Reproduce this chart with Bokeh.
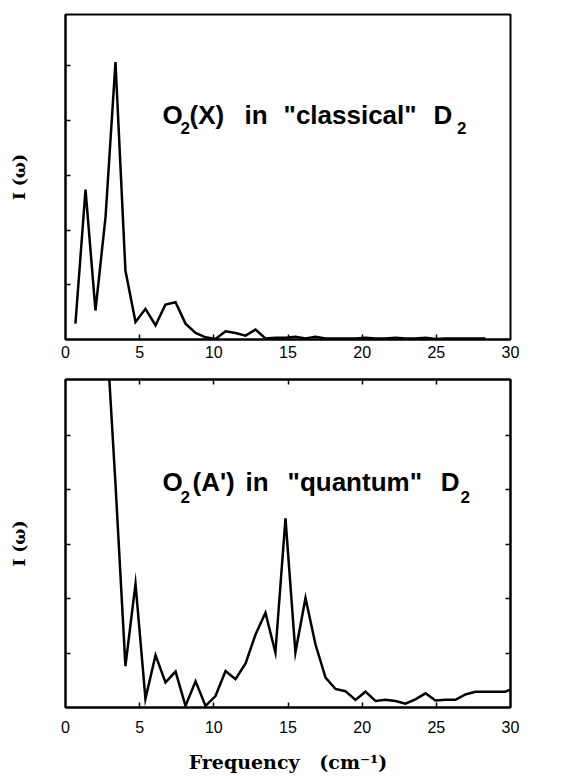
from bokeh.plotting import figure
from bokeh.layouts import column
from bokeh.models import Range1d, FixedTicker, LinearAxis, Label
from bokeh.embed import file_html
from bokeh.resources import INLINE

# ---- data ----
freq_top = [0.67, 1.35, 2.02, 2.70, 3.37, 4.04, 4.72, 5.39, 6.07, 6.74, 7.42, 8.09,
            8.77, 9.44, 10.11, 10.79, 11.46, 12.14, 12.81, 13.48, 14.15, 14.83, 15.50,
            16.18, 16.85, 17.53, 18.20, 18.87, 19.55, 20.22, 20.90, 21.57, 22.24, 22.92,
            23.59, 24.27, 24.94, 25.62, 26.29, 26.96, 27.64, 28.31]
I_top = [0.29, 2.74, 0.53, 2.24, 5.07, 1.26, 0.32, 0.56, 0.26, 0.64, 0.68, 0.29,
         0.12, 0.04, 0.01, 0.15, 0.12, 0.07, 0.18, 0.02, 0.03, 0.03, 0.05,
         0.02, 0.05, 0.02, 0.02, 0.02, 0.02, 0.03, 0.02, 0.02, 0.03, 0.02,
         0.02, 0.03, 0.01, 0.02, 0.02, 0.02, 0.02, 0.02]

freq_bot = [2.70, 3.37, 4.04, 4.72, 5.39, 6.07, 6.74, 7.42, 8.09, 8.77, 9.44, 10.11,
            10.79, 11.46, 12.14, 12.81, 13.48, 14.15, 14.83, 15.50, 16.18, 16.85, 17.53,
            18.20, 18.87, 19.55, 20.22, 20.90, 21.57, 22.24, 22.92, 23.59, 24.27, 24.94,
            25.62, 26.29, 26.96, 27.64, 28.31, 28.98, 29.66, 30.00]
I_bot = [7.2, 4.1, 0.76, 2.27, 0.16, 0.96, 0.46, 0.66, 0.03, 0.48, 0.03, 0.21,
         0.67, 0.52, 0.81, 1.34, 1.74, 1.01, 3.47, 1.01, 2.01, 1.16, 0.55,
         0.34, 0.30, 0.14, 0.29, 0.12, 0.14, 0.12, 0.07, 0.15, 0.26, 0.13,
         0.14, 0.14, 0.24, 0.29, 0.29, 0.29, 0.29, 0.33]

x_ticks = [0, 5, 10, 15, 20, 25, 30]
x_inner_ticks = [5, 10, 15, 20, 25]
y_ticks = [1, 2, 3, 4, 5]

title_top = [("O", 6.54, "main"), ("2", 7.75, "sub"), ("(X)", 8.36, "main"),
             ("in", 12.07, "main"), ('"classical"', 14.70, "main"),
             ("D", 24.81, "main"), ("2", 26.40, "sub")]
title_bot = [("O", 6.54, "main"), ("2", 7.75, "sub"), ("(A')", 8.56, "main"),
             ("in", 12.14, "main"), ('"quantum"', 14.97, "main"),
             ("D", 25.29, "main"), ("2", 26.63, "sub")]

SANS = "Liberation Sans"
SERIF = "DejaVu Serif"


def tick_only_axis(ticks):
    # ticks drawn as minor ticks so that no (empty) labels are drawn
    return LinearAxis(ticker=FixedTicker(ticks=[], minor_ticks=ticks),
                      major_tick_in=0, major_tick_out=0,
                      minor_tick_in=5, minor_tick_out=0,
                      minor_tick_line_width=1.5, minor_tick_line_color="black",
                      axis_line_width=2, axis_line_color="black",
                      major_label_standoff=0)


def make_panel(height, b_top, b_bot, y_end, x_standoff, extra_axes, xlabel,
               freq, inten, title, y_main, y_sub):
    p = figure(width=530, height=height, output_backend="svg", toolbar_location=None,
               x_range=Range1d(0, 30), y_range=Range1d(0, y_end),
               min_border_left=65, min_border_right=20,
               min_border_top=b_top, min_border_bottom=b_bot, y_axis_location=None)
    p.xgrid.visible = False
    p.ygrid.visible = False
    p.background_fill_color = "white"
    p.border_fill_color = "white"
    p.outline_line_color = "black"
    p.outline_line_width = 2
    p.outline_line_alpha = 1

    xa = p.xaxis[0]
    xa.ticker = FixedTicker(ticks=x_ticks, minor_ticks=x_inner_ticks)
    xa.major_tick_in = 0
    xa.major_tick_out = 0
    xa.minor_tick_in = 5
    xa.minor_tick_out = 0
    xa.minor_tick_line_width = 1.5
    xa.minor_tick_line_color = "black"
    xa.axis_line_width = 2
    xa.major_label_text_font = SANS
    xa.major_label_text_font_size = "16px"
    xa.major_label_text_color = "black"
    xa.major_label_standoff = x_standoff
    if xlabel:
        xa.axis_label = xlabel
        xa.axis_label_text_font = SERIF
        xa.axis_label_text_font_style = "bold"
        xa.axis_label_text_font_size = "19px"
        xa.axis_label_text_color = "black"
        xa.axis_label_standoff = 15

    ya = tick_only_axis(y_ticks)
    ya.axis_label = "I (ω)"
    ya.axis_label_text_font = SERIF
    ya.axis_label_text_font_style = "bold"
    ya.axis_label_text_font_size = "17px"
    ya.axis_label_text_color = "black"
    ya.axis_label_standoff = 37
    p.add_layout(ya, "left")

    if extra_axes:
        p.add_layout(tick_only_axis(x_inner_ticks), "above")
        p.add_layout(tick_only_axis(y_ticks), "right")

    p.line(freq, inten, line_color="black", line_width=2.5, line_join="miter")

    for txt, xpos, kind in title:
        if kind == "main":
            p.add_layout(Label(x=xpos, y=y_main, text=txt, text_font=SANS,
                               text_font_style="bold", text_font_size="26px",
                               text_color="black", text_baseline="alphabetic"))
        else:
            p.add_layout(Label(x=xpos, y=y_sub, text=txt, text_font=SANS,
                               text_font_style="bold", text_font_size="17px",
                               text_color="black", text_baseline="alphabetic"))
    return p


p1 = make_panel(365, 14, 26, 5.94, 6, False, None, freq_top, I_top, title_top, 4.10, 3.86)
p2 = make_panel(410, 14, 67, 6.02, 13, True, "Frequency\u00a0\u00a0\u00a0(cm\u207b\u00b9)",
                freq_bot, I_bot, title_bot, 4.14, 3.87)

layout = column(p1, p2, spacing=0)
open("out.html", "w").write(file_html(layout, INLINE))
